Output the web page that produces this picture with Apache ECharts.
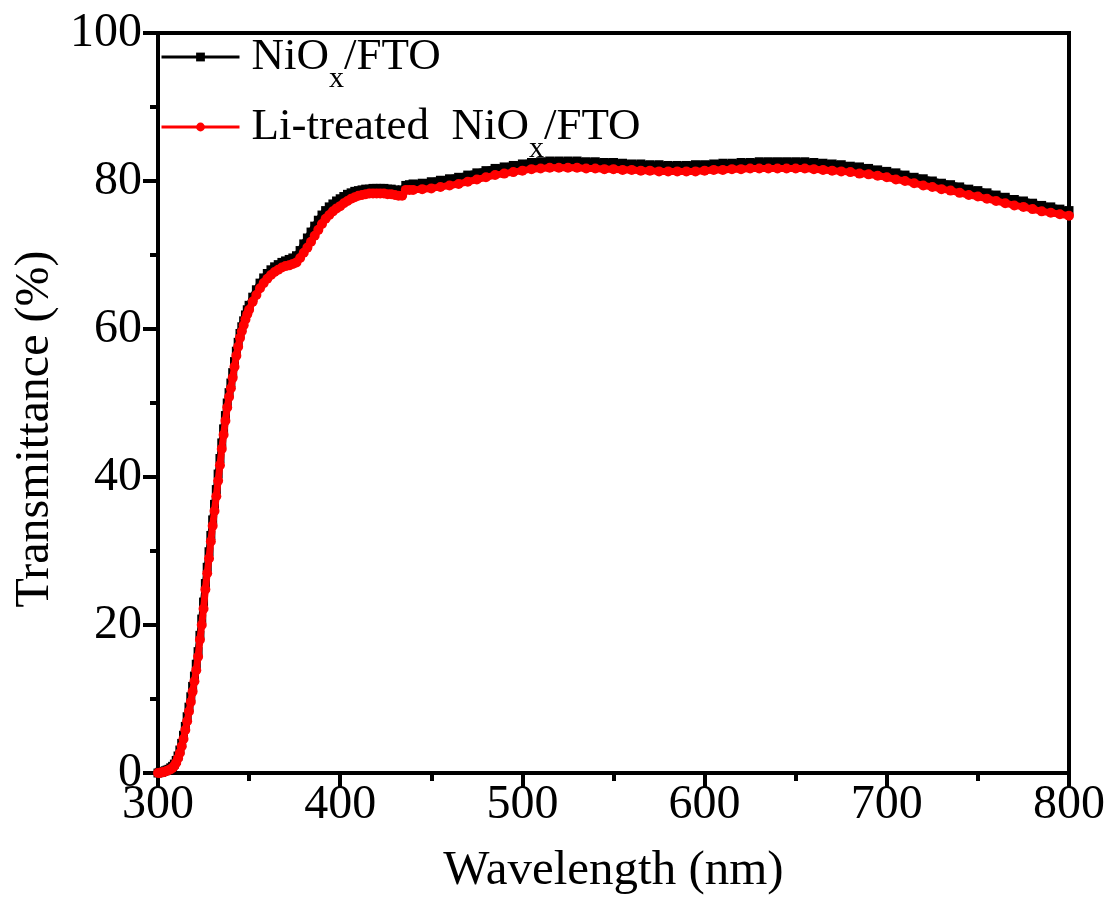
<!DOCTYPE html>
<html>
<head>
<meta charset="utf-8">
<script src="https://cdn.jsdelivr.net/npm/echarts@6/dist/echarts.min.js"></script>
<style>
html,body{margin:0;padding:0;background:#fff;}
#chart{width:1109px;height:922px;}
</style>
</head>
<body>
<div id="chart"></div>
<script>
// Wavelength (nm)
const wavelengths = [
300,301,302,303,304,305,306,307,308,309,310,311,312,313,314,315,316,317,318,319,
320,321,322,323,324,325,326,327,328,329,330,331,332,333,334,335,336,337,338,339,
340,341,342,343,344,345,346,347,348,349,350,
352,354,356,358,360,362,364,366,368,370,372,374,376,378,380,382,384,386,388,390,
392,394,396,398,400,402,404,406,408,410,412,414,416,418,420,422,424,426,428,430,
432,434,436,438,440,
445,450,455,460,465,470,475,480,485,490,495,500,505,510,515,520,525,530,535,540,
545,550,555,560,565,570,575,580,585,590,595,600,605,610,615,620,625,630,635,640,
645,650,655,660,665,670,675,680,685,690,695,700,705,710,715,720,725,730,735,740,
745,750,755,760,765,770,775,780,785,790,795,800
];
// NiOx/FTO transmittance (%)
const niox = [
0.0,0.1,0.1,0.2,0.3,0.4,0.5,0.7,0.9,1.2,1.7,2.3,3.1,4.0,5.1,6.3,7.6,8.9,10.3,11.7,
13.1,14.7,16.4,18.6,20.8,23.1,25.6,27.8,29.9,32.1,34.2,36.3,38.3,40.4,42.5,44.6,46.5,48.3,50.0,51.4,
52.7,54.1,55.6,57.0,58.2,59.4,60.3,61.1,61.9,62.6,63.2,
64.3,65.3,66.2,66.9,67.5,68.0,68.4,68.7,69.0,69.2,69.4,69.6,69.9,70.6,71.5,72.3,73.1,73.9,74.7,75.4,
76.0,76.5,76.9,77.3,77.6,77.9,78.2,78.4,78.6,78.7,78.8,78.9,78.9,79.0,79.0,79.0,79.0,78.9,78.9,78.8,
78.7,78.8,79.4,79.5,79.6,
79.7,79.9,80.1,80.3,80.5,80.8,81.1,81.4,81.7,81.9,82.1,82.3,82.5,82.6,82.7,82.7,82.7,82.7,82.6,82.6,
82.5,82.5,82.4,82.3,82.3,82.2,82.2,82.1,82.1,82.1,82.2,82.2,82.3,82.4,82.4,82.5,82.5,82.6,82.6,82.6,
82.6,82.6,82.6,82.5,82.4,82.3,82.2,82.0,81.9,81.7,81.5,81.3,81.1,80.8,80.5,80.3,80.0,79.7,79.5,79.2,
78.9,78.7,78.4,78.1,77.8,77.5,77.3,77.0,76.7,76.5,76.2,76.0
];
// Li-treated NiOx/FTO transmittance (%)
const liNiox = [
0.0,0.0,0.1,0.1,0.2,0.3,0.4,0.5,0.7,1.0,1.4,2.0,2.7,3.6,4.6,5.8,7.0,8.3,9.6,11.0,
12.4,13.9,15.7,18.0,20.0,22.2,24.8,27.0,29.0,31.3,33.4,35.4,37.4,39.5,41.6,43.8,45.7,47.6,49.4,50.8,
52.0,53.4,54.9,56.4,57.6,58.8,59.7,60.5,61.3,62.0,62.6,
63.7,64.6,65.5,66.2,66.8,67.3,67.7,68.0,68.3,68.5,68.6,68.8,69.0,69.6,70.3,71.0,71.8,72.6,73.4,74.2,
74.9,75.4,75.9,76.3,76.6,77.0,77.3,77.6,77.8,78.0,78.1,78.2,78.3,78.3,78.3,78.3,78.3,78.2,78.2,78.1,
78.0,78.0,78.8,78.8,78.8,
78.9,79.0,79.2,79.4,79.6,79.9,80.2,80.5,80.8,81.0,81.2,81.4,81.6,81.7,81.8,81.8,81.8,81.8,81.7,81.7,
81.6,81.6,81.5,81.5,81.4,81.4,81.3,81.3,81.3,81.3,81.3,81.4,81.5,81.5,81.6,81.6,81.7,81.7,81.7,81.7,
81.7,81.7,81.7,81.6,81.5,81.4,81.3,81.2,81.0,80.9,80.7,80.5,80.2,80.0,79.7,79.4,79.2,78.9,78.7,78.4,
78.1,77.9,77.6,77.3,77.0,76.7,76.5,76.2,75.9,75.7,75.5,75.3
];
const seriesNames = ['NiOx/FTO', 'Li-treated NiOx/FTO'];
const legendLabels = {
  'NiOx/FTO': '{f|NiO}{s|x}{b|/FTO}',
  'Li-treated NiOx/FTO': '{f|Li-treated  NiO}{s|x}{b|/FTO}'
};
const xTitle = 'Wavelength (nm)';
const yTitle = 'Transmittance (%)';

const FONT = '"Liberation Serif", "Times New Roman", serif';
const chart = echarts.init(document.getElementById('chart'), null, {renderer: 'canvas'});

function pairs(vals) { return wavelengths.map((w, i) => [w, vals[i]]); }

chart.setOption({
  animation: false,
  backgroundColor: '#fff',
  grid: {left: 158, right: 40, top: 33, bottom: 149, show: true, borderColor: '#000', borderWidth: 4, backgroundColor: 'transparent'},
  legend: {
    orient: 'vertical', left: 160, top: 20, padding: 0, itemGap: -4,
    itemWidth: 78, itemHeight: 11,
    lineStyle: {width: 3},
    data: seriesNames,
    formatter: name => legendLabels[name],
    textStyle: {
      color: '#000', fontFamily: FONT, fontSize: 45,
      rich: {
        f: {fontFamily: FONT, fontSize: 45, lineHeight: 50, color: '#000', verticalAlign: 'middle', padding: [0, 0, 0, 7]},
        b: {fontFamily: FONT, fontSize: 45, lineHeight: 50, color: '#000', verticalAlign: 'middle'},
        s: {fontFamily: FONT, fontSize: 30, lineHeight: 30, color: '#000', verticalAlign: 'middle', padding: [44, 0, 0, 0]}
      }
    }
  },
  xAxis: {
    type: 'value', min: 300, max: 800, interval: 100,
    name: xTitle, nameLocation: 'middle', nameGap: 74,
    nameTextStyle: {fontFamily: FONT, fontSize: 49, color: '#000'},
    axisLine: {show: true, onZero: false, lineStyle: {color: '#000', width: 4}},
    axisTick: {show: true, inside: false, length: 15, lineStyle: {color: '#000', width: 4}},
    minorTick: {show: true, splitNumber: 2, length: 8, lineStyle: {color: '#000', width: 4}},
    axisLabel: {fontFamily: FONT, fontSize: 48, color: '#000', margin: 8},
    splitLine: {show: false}
  },
  yAxis: {
    type: 'value', min: 0, max: 100, interval: 20,
    axisLine: {show: true, onZero: false, lineStyle: {color: '#000', width: 4}},
    axisTick: {show: true, inside: false, length: 15, lineStyle: {color: '#000', width: 4}},
    minorTick: {show: true, splitNumber: 2, length: 8, lineStyle: {color: '#000', width: 4}},
    axisLabel: {fontFamily: FONT, fontSize: 48, color: '#000', margin: 16},
    splitLine: {show: false}
  },
  graphic: [{
    type: 'text', x: 35, y: 429, rotation: Math.PI / 2,
    style: {text: yTitle, font: '48px ' + FONT, fill: '#000', textAlign: 'center', textVerticalAlign: 'middle'}
  }],
  series: [
    {
      name: seriesNames[0], type: 'line', data: pairs(niox),
      symbol: 'rect', symbolSize: 9, showSymbol: true,
      itemStyle: {color: '#000'}, lineStyle: {color: '#000', width: 7},
      z: 2
    },
    {
      name: seriesNames[1], type: 'line', data: pairs(liNiox),
      symbol: 'circle', symbolSize: 10, showSymbol: true,
      itemStyle: {color: '#ff0000'}, lineStyle: {color: '#ff0000', width: 7},
      z: 3
    }
  ]
});
</script>
</body>
</html>
